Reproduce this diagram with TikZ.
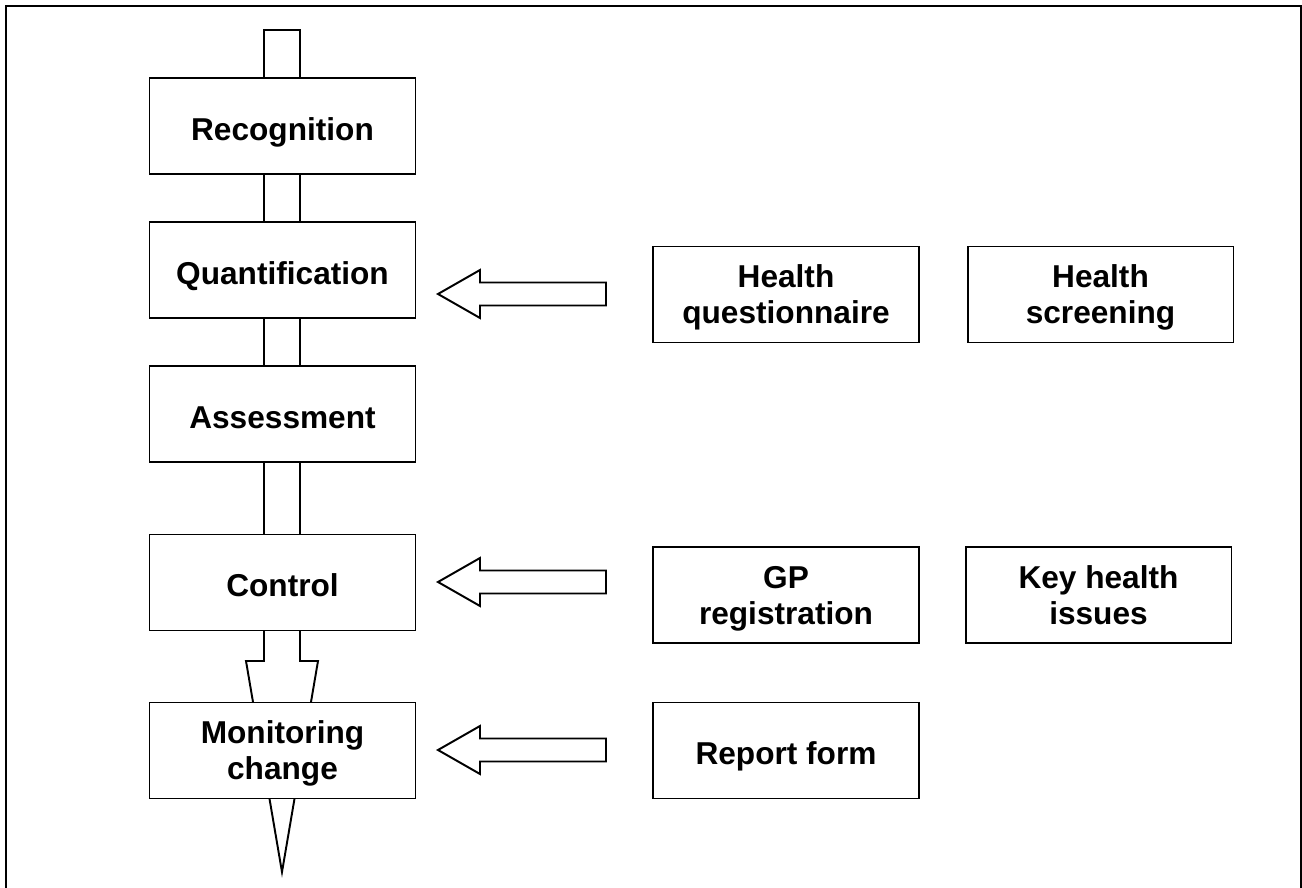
\documentclass[tikz,border=0pt]{standalone}
\usepackage{fontspec}
\setmainfont{Liberation Sans}
\usetikzlibrary{positioning}
\tikzset{
  % box of one step
  stage/.style={draw=black, line width=1.1pt, fill=white, minimum width=5.32cm,
    minimum height=1.92cm, align=center, inner sep=2pt, text depth=0pt,
    font=\fontsize{18}{20.5}\selectfont\bfseries},
  % one line of text sits a little low
  oneline/.style={stage, text height=16pt},
  % outline of a block arrow
  blockarrow/.style={draw=black, line width=1.1pt, fill=white, line join=miter},
  % outer frame
  frame/.style={draw=black, line width=1.1pt},
}

\begin{document}
\begin{tikzpicture}[x=0.02cm, y=-0.02cm]
  \newcommand{\inputarrow}[1]{%
    \draw[blockarrow] (438,#1) -- ++(42,-24) -- ++(0,12.5) -- ++(126,0) -- ++(0,23)
      -- ++(-126,0) -- ++(0,12.5) -- cycle;}
  \useasboundingbox (0,0) rectangle (1302,888);
  \draw[frame] (6,6) rectangle (1301,900);
  % main arrow behind the steps
  \draw[blockarrow] (264,30) -- (300,30) -- (300,661) -- (318,661) -- (282,872)
    -- (246,661) -- (264,661) -- cycle;
  \node[oneline] (recog) at (282.5,126) {Recognition};
  \node[oneline] (quant) at (282.5,270) {Quantification};
  \node[oneline] (assess) at (282.5,414) {Assessment};
  \node[oneline] (control) at (282.5,582.5) {Control};
  \node[stage] (monitor) at (282.5,750.5) {Monitoring\\change};
  \node[stage] (quest) at (786,294.5) {Health\\questionnaire};
  \node[stage] (screen) at (1100.5,294.5) {Health\\screening};
  \node[stage] (gp) at (786,595) {GP\\registration};
  \node[stage] (issues) at (1098.5,595) {Key health\\issues};
  \node[oneline] (report) at (786,750.5) {Report form};
  \inputarrow{294}
  \inputarrow{582}
  \inputarrow{750}
\end{tikzpicture}
\end{document}
